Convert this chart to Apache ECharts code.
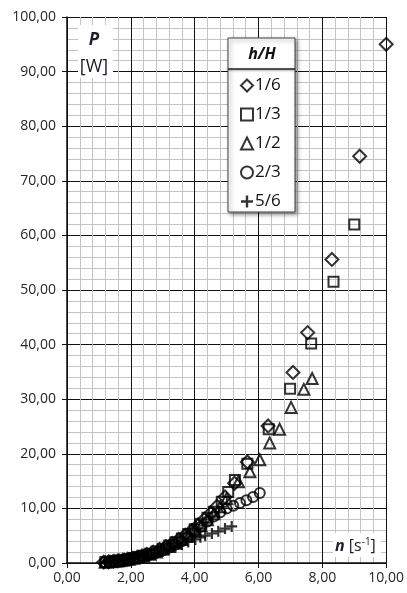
<!DOCTYPE html>
<html>
<head>
<meta charset="utf-8">
<script src="https://cdn.jsdelivr.net/npm/echarts@6/dist/echarts.min.js"></script>
<style>
html,body{margin:0;padding:0;background:#fff;}
#c{width:407px;height:593px;}
</style>
</head>
<body>
<div id="c"></div>
<script>
// ---- data (n [1/s], P [W]) ----
var seriesNames = ['1/6', '1/3', '1/2', '2/3', '5/6'];

var n16 = [1.15,1.3,1.45,1.6,1.75,1.9,2.05,2.2,2.35,2.5,2.7,2.9,3.1,3.3,3.5,3.7,3.9,4.1,4.3,4.5,4.7,4.95,5.25,5.65,6.30,7.08,7.54,8.30,9.17,10.0];
var p16 = [0.15,0.22,0.3,0.41,0.54,0.69,0.86,1.06,1.3,1.56,1.97,2.44,2.98,3.6,4.3,5.1,5.9,6.9,8.0,9.1,10.4,12.1,14.6,18.5,25.1,34.9,42.2,55.6,74.5,95.0];

var n13 = [1.2,1.35,1.5,1.65,1.8,1.95,2.1,2.25,2.4,2.6,2.8,3.0,3.2,3.4,3.6,3.8,4.0,4.2,4.4,4.6,4.85,5.05,5.26,5.65,6.32,6.99,7.65,8.35,9.0];
var p13 = [0.17,0.24,0.33,0.44,0.57,0.72,0.9,1.1,1.35,1.7,2.1,2.6,3.2,3.8,4.5,5.3,6.2,7.2,8.3,9.4,11.2,13.0,15.2,18.2,24.5,31.9,40.2,51.5,62.0];

var n12 = [1.2,1.35,1.5,1.65,1.8,1.95,2.1,2.25,2.4,2.6,2.8,3.0,3.2,3.4,3.6,3.8,4.0,4.2,4.4,4.6,4.8,5.0,5.37,5.73,6.04,6.35,6.66,7.02,7.42,7.68];
var p12 = [0.16,0.23,0.31,0.42,0.55,0.69,0.86,1.05,1.28,1.62,2.0,2.5,3.0,3.6,4.3,5.0,5.9,6.8,7.9,9.0,10.3,11.8,14.9,16.7,18.9,22.0,24.5,28.5,31.8,33.8];

var n23 = [1.2,1.35,1.5,1.65,1.8,1.95,2.1,2.25,2.4,2.6,2.8,3.0,3.2,3.4,3.6,3.8,4.0,4.2,4.4,4.6,4.8,5.0,5.21,5.42,5.62,5.83,6.04];
var p23 = [0.16,0.22,0.3,0.4,0.52,0.66,0.82,1.0,1.22,1.55,1.9,2.35,2.85,3.4,4.0,4.8,5.8,6.7,7.6,8.5,9.3,10.0,10.5,11.0,11.5,12.1,12.8];

var n56 = [1.2,1.35,1.5,1.65,1.8,1.95,2.1,2.25,2.4,2.6,2.8,3.0,3.2,3.4,3.6,3.8,4.02,4.18,4.33,4.54,4.74,4.95,5.16];
var p56 = [0.15,0.21,0.28,0.37,0.48,0.6,0.75,0.92,1.1,1.4,1.7,2.1,2.5,2.95,3.4,3.85,4.3,4.7,5.0,5.4,5.8,6.3,6.7];

var xTicks = {min: 0, max: 10, interval: 2};
var yTicks = {min: 0, max: 100, interval: 10};

function pairs(xs, ys){ return xs.map(function(x,i){ return [x, ys[i]]; }); }
function fmt(v){ return v.toFixed(2).replace('.', ','); }

var PLUS = 'path://M4,0H6V4H10V6H6V10H4V6H0V4H4Z';
var hollow = {color: 'rgba(255,255,255,0)', borderColor: '#000', borderWidth: 2};
var FONT = '"Open Sans", "Noto Sans", sans-serif';

var chart = echarts.init(document.getElementById('c'), null, {renderer: 'canvas'});

function sc(name, data, symbol, size, style){
  return {
    name: name, type: 'scatter', data: data, symbol: symbol, symbolSize: size,
    itemStyle: style, emphasis: {disabled: true}, z: 3
  };
}

var option = {
  backgroundColor: '#fff',
  animation: false,
  grid: {left: 67, right: 18, top: 17, bottom: 30, containLabel: false},
  xAxis: {
    type: 'value', min: xTicks.min, max: xTicks.max, interval: xTicks.interval,
    axisLine: {show: true, onZero: false, lineStyle: {color: '#111', width: 1.5}},
    axisTick: {show: true, inside: false, length: 5, lineStyle: {color: '#111'}},
    minorTick: {show: false, splitNumber: 5},
    splitLine: {show: true, lineStyle: {color: '#111', width: 1}},
    minorSplitLine: {show: true, lineStyle: {color: '#c4c4c4', width: 1}},
    axisLabel: {formatter: fmt, color: '#262626', fontFamily: FONT, fontSize: 14, margin: 8}
  },
  yAxis: {
    type: 'value', min: yTicks.min, max: yTicks.max, interval: yTicks.interval,
    axisLine: {show: true, onZero: false, lineStyle: {color: '#111', width: 1.5}},
    axisTick: {show: true, inside: false, length: 5, lineStyle: {color: '#111'}},
    splitLine: {show: true, lineStyle: {color: '#111', width: 1}},
    minorTick: {show: false, splitNumber: 5},
    minorSplitLine: {show: true, lineStyle: {color: '#c4c4c4', width: 1}},
    axisLabel: {formatter: fmt, color: '#262626', fontFamily: FONT, fontSize: 14, margin: 11}
  },
  legend: {
    orient: 'vertical', left: 240, top: 77, itemGap: 12, itemWidth: 12, itemHeight: 12,
    z: 6, selectedMode: false, padding: 0,
    textStyle: {fontFamily: FONT, fontSize: 17, color: '#111', padding: [0,0,0,-3]},
    data: [
      {name: '1/6', icon: 'diamond'},
      {name: '1/3', icon: 'rect'},
      {name: '1/2', icon: 'triangle'},
      {name: '2/3', icon: 'circle'},
      {name: '5/6', icon: PLUS}
    ]
  },
  graphic: [
    {type: 'rect', z: 5, shape: {x: 228, y: 38, width: 67, height: 174},
     style: {fill: '#fff', stroke: '#444', lineWidth: 1, shadowBlur: 4, shadowOffsetX: 2, shadowOffsetY: 2, shadowColor: 'rgba(0,0,0,0.45)'}},
    {type: 'line', z: 6, shape: {x1: 228, y1: 69, x2: 295, y2: 69},
     style: {stroke: '#222', lineWidth: 1.5, shadowBlur: 2, shadowOffsetY: 1, shadowColor: 'rgba(0,0,0,0.4)'}},
    {type: 'text', z: 7, style: {x: 262, y: 54, text: 'h/H', fill: '#111', font: 'italic bold 16px ' + FONT, align: 'center', verticalAlign: 'middle'}},
    {type: 'rect', z: 5, shape: {x: 78, y: 25, width: 35, height: 53}, style: {fill: '#fff'}},
    {type: 'text', z: 7, style: {x: 94, y: 40, text: 'P', fill: '#1b1b2b', font: 'italic bold 17px ' + FONT, align: 'center', verticalAlign: 'middle'}},
    {type: 'text', z: 7, style: {x: 94, y: 67, text: '[W]', fill: '#1b1b2b', font: '18px ' + FONT, align: 'center', verticalAlign: 'middle'}},
    {type: 'rect', z: 5, shape: {x: 333, y: 533, width: 48, height: 24}, style: {fill: '#fff'}},
    {type: 'text', z: 7, style: {x: 335, y: 546, text: '{b|n} [s{s|-1}]', verticalAlign: 'middle', fill: '#1b1b2b', font: '16px ' + FONT,
      rich: {b: {font: 'italic bold 16px ' + FONT, fill: '#1b1b2b'}, s: {fontSize: 10, fontFamily: FONT, verticalAlign: 'top', padding: [0,0,8,0], fill: '#1b1b2b'}}}}
  ],
  series: [
    sc('1/6', pairs(n16, p16), 'diamond', 13, hollow),
    sc('1/3', pairs(n13, p13), 'rect', 10, hollow),
    sc('1/2', pairs(n12, p12), 'triangle', 11, hollow),
    sc('2/3', pairs(n23, p23), 'circle', 10, hollow),
    sc('5/6', pairs(n56, p56), PLUS, 11, {color: '#000'})
  ]
};
chart.setOption(option);
</script>
</body>
</html>
